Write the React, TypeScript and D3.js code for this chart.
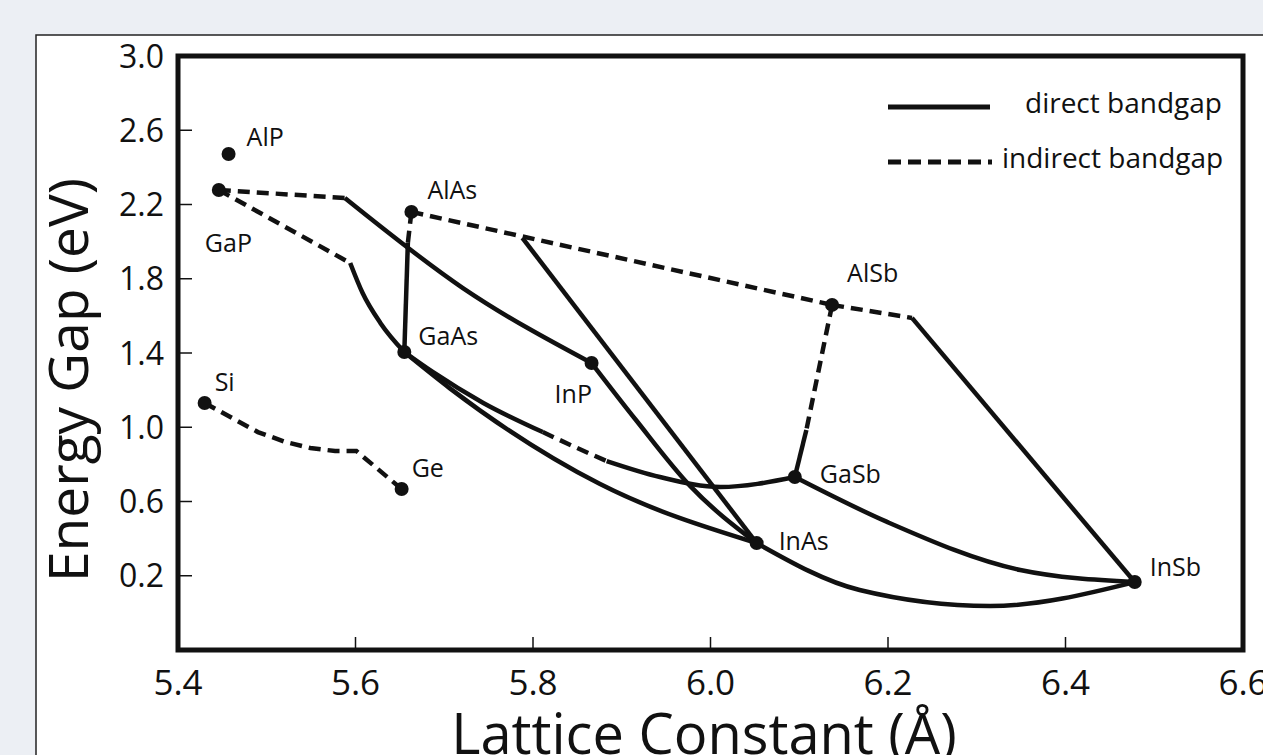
import * as d3 from "d3";

// compounds: lattice constant (Å) and bandgap (eV)
const compounds = ["AlP", "GaP", "AlAs", "GaAs", "InP", "AlSb", "GaSb", "InAs", "InSb", "Si", "Ge"];
const latticeA = [5.457, 5.446, 5.663, 5.655, 5.866, 6.137, 6.095, 6.052, 6.478, 5.43, 5.652];
const gapEV = [2.472, 2.278, 2.16, 1.405, 1.346, 1.659, 0.732, 0.376, 0.166, 1.131, 0.667];

const xTicks = [5.4, 5.6, 5.8, 6.0, 6.2, 6.4, 6.6];
const yTicks = [0.2, 0.6, 1.0, 1.4, 1.8, 2.2, 2.6, 3.0];

// alloy curves [a, Eg], split into indirect (dashed) and direct (solid) parts
const gaInP_ind = [[5.446, 2.278], [5.588, 2.235]];
const gaInP_dir = [[5.588, 2.235], [5.721, 1.75], [5.866, 1.346]];
const gaAsP_ind = [[5.446, 2.278], [5.594, 1.885]];
const gaAsP_dir = [[5.594, 1.885], [5.608, 1.723], [5.628, 1.562], [5.655, 1.405]];
const alGaAs_ind = [[5.663, 2.16], [5.659, 1.993]];
const alGaAs_dir = [[5.659, 1.993], [5.655, 1.405]];
const alAsSb_ind = [[5.663, 2.16], [6.137, 1.659]];
const alInAs_dir = [[5.788, 2.02], [6.052, 0.376]];
const alInSb_ind = [[6.137, 1.659], [6.227, 1.589]];
const alInSb_dir = [[6.227, 1.589], [6.478, 0.166]];
const alGaSb_ind = [[6.137, 1.659], [6.108, 0.985]];
const alGaSb_dir = [[6.108, 0.985], [6.095, 0.732]];
const gaAsSb_dir1 = [[5.655, 1.405], [5.687, 1.298], [5.744, 1.131], [5.811, 0.974]];
const gaAsSb_ind = [[5.811, 0.974], [5.847, 0.894], [5.883, 0.818]];
const gaAsSb_dir2 = [[5.883, 0.818], [5.943, 0.732], [6.011, 0.678], [6.095, 0.732]];
const gaInAs_dir = [[5.655, 1.405], [5.706, 1.211], [5.875, 0.695], [6.052, 0.376]];
const inPAs_dir = [[5.866, 1.346], [5.916, 1.039], [5.977, 0.684], [6.052, 0.376]];
const inAsSb_dir = [[6.052, 0.376], [6.168, 0.123], [6.315, 0.037], [6.478, 0.166]];
const gaInSb_dir = [[6.095, 0.732], [6.199, 0.49], [6.349, 0.231], [6.478, 0.166]];
const siGe_ind = [[5.43, 1.131], [5.459, 1.055], [5.49, 0.974], [5.521, 0.921], [5.549, 0.888], [5.577, 0.872], [5.601, 0.872], [5.652, 0.667]];

const segments = [
  { pts: gaInP_ind, dashed: true },
  { pts: gaInP_dir, dashed: false },
  { pts: gaAsP_ind, dashed: true },
  { pts: gaAsP_dir, dashed: false },
  { pts: alGaAs_ind, dashed: true },
  { pts: alGaAs_dir, dashed: false },
  { pts: alAsSb_ind, dashed: true },
  { pts: alInAs_dir, dashed: false },
  { pts: alInSb_ind, dashed: true },
  { pts: alInSb_dir, dashed: false },
  { pts: alGaSb_ind, dashed: true, linear: true },
  { pts: alGaSb_dir, dashed: false, linear: true },
  { pts: gaAsSb_dir1, dashed: false },
  { pts: gaAsSb_ind, dashed: true },
  { pts: gaAsSb_dir2, dashed: false },
  { pts: gaInAs_dir, dashed: false },
  { pts: inPAs_dir, dashed: false },
  { pts: inAsSb_dir, dashed: false },
  { pts: gaInSb_dir, dashed: false },
  { pts: siGe_ind, dashed: true, linear: true },
];

// label offsets from the dot, in px
const labelOffset = {
  AlP: [18, -8], GaP: [-14, 62], AlAs: [16, -13], GaAs: [14, -7], InP: [-37, 40],
  AlSb: [15, -23], GaSb: [25, 6], InAs: [22, 7], InSb: [15, -6], Si: [10, -12], Ge: [10, -12],
};

const W = 1263, H = 755;
const frame = { left: 178, right: 1243, top: 56, bottom: 650 };
const font = "'Open Sans', 'Noto Sans', sans-serif";
const ink = "#111";

export default function App() {
  const x = d3.scaleLinear().domain([5.4, 6.6]).range([frame.left, frame.right]);
  const y = d3.scaleLinear().domain([-0.2, 3.0]).range([frame.bottom, frame.top]);

  const curved = d3.line<number[]>().x((d) => x(d[0])).y((d) => y(d[1])).curve(d3.curveMonotoneX);
  const straight = d3.line<number[]>().x((d) => x(d[0])).y((d) => y(d[1]));

  return (
    <svg width={W} height={H} style={{ position: "absolute", left: 0, top: 0 }} fontFamily={font}>
      <rect x={0} y={0} width={W} height={H} fill="#eceff4" />
      <rect x={36} y={35} width={1400} height={900} fill="#fff" stroke="#222" strokeWidth={1.5} />

      {/* ticks */}
      <g stroke={ink} strokeWidth={1.5}>
        {yTicks.map((t) => (
          <line key={"yt" + t} x1={frame.left} x2={frame.left + 14} y1={y(t)} y2={y(t)} />
        ))}
        {xTicks.map((t) => (
          <line key={"xt" + t} x1={x(t)} x2={x(t)} y1={frame.bottom} y2={frame.bottom - 13} />
        ))}
      </g>

      {/* alloy lines */}
      <g fill="none" stroke={ink} strokeWidth={4.5}>
        {segments.map((s, i) => (
          <path
            key={i}
            d={(s.linear ? straight : curved)(s.pts) || ""}
            strokeDasharray={s.dashed ? "12,7" : undefined}
          />
        ))}
      </g>

      {/* compounds */}
      {compounds.map((c, i) => (
        <g key={c}>
          <circle cx={x(latticeA[i])} cy={y(gapEV[i])} r={7} fill={ink} />
          <text
            x={x(latticeA[i]) + labelOffset[c][0]}
            y={y(gapEV[i]) + labelOffset[c][1]}
            fontSize={25}
            fill={ink}
          >
            {c}
          </text>
        </g>
      ))}

      {/* frame */}
      <rect
        x={frame.left}
        y={frame.top}
        width={frame.right - frame.left}
        height={frame.bottom - frame.top}
        fill="none"
        stroke={ink}
        strokeWidth={5}
      />

      {/* tick labels */}
      {yTicks.map((t) => (
        <text key={"yl" + t} x={164} y={y(t)} dy="0.36em" textAnchor="end" fontSize={32} fill={ink}>
          {t.toFixed(1)}
        </text>
      ))}
      {xTicks.map((t) => (
        <text key={"xl" + t} x={x(t)} y={695} textAnchor="middle" fontSize={35} fill={ink}>
          {t.toFixed(1)}
        </text>
      ))}

      {/* axis titles */}
      <text
        transform="translate(88,380) rotate(-90)"
        textAnchor="middle"
        fontSize={55}
        fill={ink}
      >
        Energy Gap (eV)
      </text>
      <text x={704} y={754} textAnchor="middle" fontSize={56} fill={ink}>
        Lattice Constant (Å)
      </text>

      {/* legend */}
      <line x1={888} x2={990} y1={107} y2={107} stroke={ink} strokeWidth={5} />
      <text x={1025} y={113} fontSize={28} fill={ink}>direct bandgap</text>
      <line x1={888} x2={992} y1={162} y2={162} stroke={ink} strokeWidth={5} strokeDasharray="13,7" />
      <text x={1002} y={168} fontSize={28} fill={ink}>indirect bandgap</text>
    </svg>
  );
}
